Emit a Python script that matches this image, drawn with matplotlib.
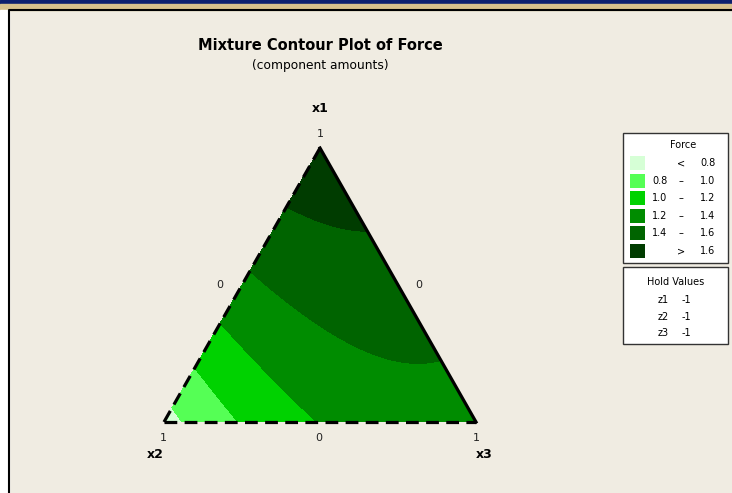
import numpy as np
import matplotlib
matplotlib.use("Agg")
import matplotlib.pyplot as plt
import matplotlib.tri as mtri
from matplotlib.patches import Rectangle

# Scheffe quadratic model for Force (component amounts, z held at -1)
B1, B2, B3 = 1.736, 0.725, 1.309
B12, B13, B23 = 0.479, -0.03, 0.756

LEVELS = [0.0, 0.8, 1.0, 1.2, 1.4, 1.6, 3.0]
COLORS = ['#d6ffd6', '#55ff55', '#00d200', '#008c00', '#006400', '#003c00']
LEG_LO = ['', '0.8', '1.0', '1.2', '1.4', '']
LEG_SEP = ['<', '\u2013', '\u2013', '\u2013', '\u2013', '>']
LEG_HI = ['0.8', '1.0', '1.2', '1.4', '1.6', '1.6']
HOLD_NAMES = ['z1', 'z2', 'z3']
HOLD_VALS = ['-1', '-1', '-1']

BG = '#f0ece2'
FONT = 'DejaVu Sans'

# vertices of the simplex in pixel space
TOP = np.array([320.0, 148.0])
LEFT = np.array([164.0, 422.0])
RIGHT = np.array([476.0, 422.0])


def force(x1, x2, x3):
    return (B1 * x1 + B2 * x2 + B3 * x3
            + B12 * x1 * x2 + B13 * x1 * x3 + B23 * x2 * x3)


def to_xy(x1, x2, x3):
    px = x1 * TOP[0] + x2 * LEFT[0] + x3 * RIGHT[0]
    py = x1 * TOP[1] + x2 * LEFT[1] + x3 * RIGHT[1]
    return px, py


fig = plt.figure(figsize=(7.32, 4.93), dpi=100)
fig.patch.set_facecolor(BG)
ax = fig.add_axes([0, 0, 1, 1])
ax.set_xlim(0, 732)
ax.set_ylim(493, 0)
ax.axis('off')

# window chrome
ax.add_patch(Rectangle((0, 0), 732, 3.5, color='#0c1f6e', zorder=5))
ax.add_patch(Rectangle((0, 3.5), 732, 6, color='#d6c08c', zorder=5))
ax.add_patch(Rectangle((0, 9.5), 8.5, 484, color='white', zorder=5))
ax.plot([9, 9, 732], [493, 10, 10], color='black', lw=1.5, zorder=6)

# barycentric grid
n = 240
pts = [(i / n, j / n, (n - i - j) / n) for i in range(n + 1) for j in range(n + 1 - i)]
x1, x2, x3 = np.array(pts).T
px, py = to_xy(x1, x2, x3)
tri = mtri.Triangulation(px, py)
ax.tricontourf(tri, force(x1, x2, x3), levels=LEVELS, colors=COLORS, zorder=2)

# boundaries
dash = (0, (4, 2.3))
ax.plot([LEFT[0], TOP[0]], [LEFT[1], TOP[1]], color='black', lw=2.3, linestyle=dash, zorder=3)
ax.plot([LEFT[0], RIGHT[0]], [LEFT[1], RIGHT[1]], color='black', lw=2.3, linestyle=dash, zorder=3)
ax.plot([TOP[0], RIGHT[0]], [TOP[1], RIGHT[1]], color='black', lw=2.3, zorder=3)

# titles
ax.text(320, 46, 'Mixture Contour Plot of Force', ha='center', va='center',
        fontsize=10.5, fontweight='bold', family=FONT)
ax.text(320, 66, '(component amounts)', ha='center', va='center', fontsize=8.8, family=FONT)

# component labels
tk = dict(ha='center', va='center', fontsize=8, family=FONT, color='#222222')
bold = dict(ha='center', va='center', fontsize=9, fontweight='bold', family=FONT)
ax.text(320, 109, 'x1', **bold)
ax.text(320, 134, '1', **tk)
ax.text(220, 285, '0', **tk)
ax.text(419, 285, '0', **tk)
ax.text(163, 438, '1', **tk)
ax.text(319, 438, '0', **tk)
ax.text(476, 438, '1', **tk)
ax.text(155, 455, 'x2', **bold)
ax.text(484, 455, 'x3', **bold)

# legend: Force
ax.add_patch(Rectangle((623, 133), 105, 130, facecolor='white', edgecolor='#333333', lw=1, zorder=4))
lt = dict(va='center', fontsize=7, family=FONT, zorder=5)
ax.text(683, 145, 'Force', ha='center', **lt)
for k, c in enumerate(COLORS):
    y = 163 + k * 17.6
    ax.add_patch(Rectangle((630, y - 7), 15, 14, facecolor=c, edgecolor='none', zorder=5))
    ax.text(660, y, LEG_LO[k], ha='center', **lt)
    ax.text(681, y, LEG_SEP[k], ha='center', **lt)
    ax.text(708, y, LEG_HI[k], ha='center', **lt)

# legend: hold values
ax.add_patch(Rectangle((623, 267), 105, 77, facecolor='white', edgecolor='#333333', lw=1, zorder=4))
ax.text(676, 282, 'Hold Values', ha='center', **lt)
for k, (nm, v) in enumerate(zip(HOLD_NAMES, HOLD_VALS)):
    y = 300 + k * 16.7
    ax.text(663, y, nm, ha='center', **lt)
    ax.text(686, y, v, ha='center', **lt)

fig.savefig('out.png', dpi=100, facecolor=BG)
